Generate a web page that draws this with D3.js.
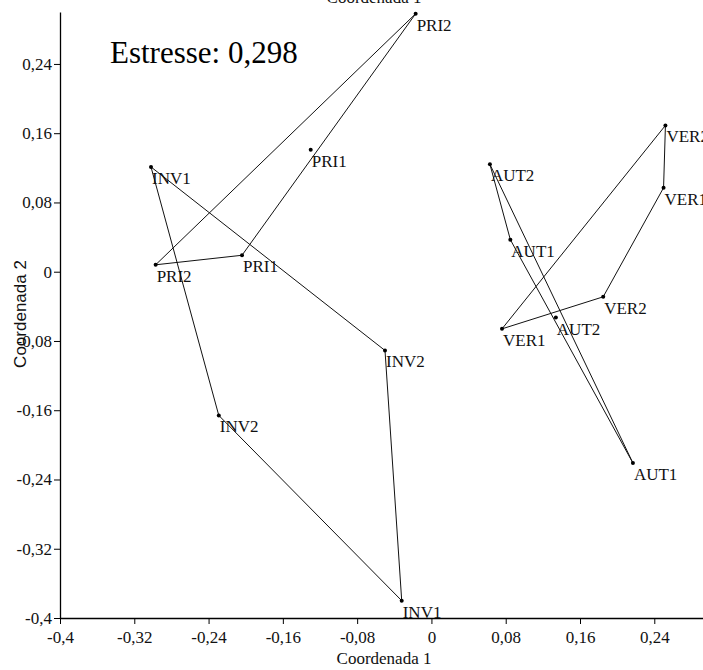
<!DOCTYPE html>
<html>
<head>
<meta charset="utf-8">
<script src="https://cdn.jsdelivr.net/npm/d3@7"></script>
<style>
  html, body { margin: 0; padding: 0; background: #fff; }
  svg { display: block; }
</style>
</head>
<body>
<div id="chart"></div>
<script>
// ---- data ----
const pointLabels = ["PRI2","PRI1","PRI1","PRI2","INV1","INV2","INV2","INV1","AUT2","AUT1","AUT2","AUT1","VER2","VER1","VER2","VER1"];
const season      = ["PRI","PRI","PRI","PRI","INV","INV","INV","INV","AUT","AUT","AUT","AUT","VER","VER","VER","VER"];
const coord1 = [-0.017, -0.130, -0.204, -0.297, -0.302, -0.050, -0.229, -0.032, 0.063, 0.085, 0.134, 0.217, 0.252, 0.250, 0.185, 0.076];
const coord2 = [ 0.298,  0.141,  0.019,  0.008,  0.121, -0.091, -0.166, -0.380, 0.124, 0.037, -0.053, -0.221, 0.169, 0.097, -0.029, -0.066];
const seasons = ["PRI","INV","AUT","VER"];
const xTicks = [-0.4, -0.32, -0.24, -0.16, -0.08, 0, 0.08, 0.16, 0.24];
const yTicks = [-0.4, -0.32, -0.24, -0.16, -0.08, 0, 0.08, 0.16, 0.24];
const stressText = "Estresse: 0,298";
const xTitle = "Coordenada 1";
const yTitle = "Coordenada 2";

// ---- layout ----
const W = 703, H = 670;
const svg = d3.select("#chart").append("svg").attr("width", W).attr("height", H);
const serif = "'Liberation Serif', 'Times New Roman', serif";
const sans = "'Liberation Sans', Arial, sans-serif";

const x = d3.scaleLinear().domain([-0.4, 0.3]).range([60, 710]);
const y = d3.scaleLinear().domain([-0.4, 0.3]).range([618, 12]);
const fmt = v => (v === 0 ? "0" : String(+v.toFixed(2)).replace(".", ","));

// axes
const xAxis = svg.append("g").attr("transform", `translate(0,${y(-0.4)})`)
  .call(d3.axisBottom(x).tickValues(xTicks).tickFormat(fmt).tickSize(6).tickSizeOuter(0));
const yAxis = svg.append("g").attr("transform", `translate(${x(-0.4)},0)`)
  .call(d3.axisLeft(y).tickValues(yTicks).tickFormat(fmt).tickSize(6).tickSizeOuter(0));
[xAxis, yAxis].forEach(g => {
  g.select(".domain").attr("stroke", "#000").attr("stroke-width", 1.3);
  g.selectAll(".tick line").attr("stroke", "#000");
  g.selectAll("text").attr("font-family", serif).attr("font-size", 17).attr("fill", "#111");
});
xAxis.selectAll("text").attr("dy", null).attr("y", 25);
yAxis.selectAll("text").attr("x", -8);

// titles
svg.append("text").attr("x", 384).attr("y", 664).attr("text-anchor", "middle")
  .attr("font-family", serif).attr("font-size", 17).attr("fill", "#111").text(xTitle);
svg.append("text").attr("x", 374).attr("y", 3).attr("text-anchor", "middle")
  .attr("font-family", serif).attr("font-size", 17).attr("fill", "#111").text(xTitle);
svg.append("text").attr("transform", "translate(26,314) rotate(-90)").attr("text-anchor", "middle")
  .attr("font-family", sans).attr("font-size", 17).attr("fill", "#111").text(yTitle);

// stress annotation
svg.append("text").attr("x", 110).attr("y", 63)
  .attr("font-family", serif).attr("font-size", 31).attr("fill", "#000").text(stressText);

// points
const pts = pointLabels.map((l, i) => ({ label: l, season: season[i], px: x(coord1[i]), py: y(coord2[i]) }));

// convex hulls per season
seasons.forEach(s => {
  const hull = d3.polygonHull(pts.filter(p => p.season === s).map(p => [p.px, p.py]));
  svg.append("path").attr("d", "M" + hull.join("L") + "Z")
    .attr("fill", "none").attr("stroke", "#111").attr("stroke-width", 1);
});

svg.append("g").selectAll("circle").data(pts).join("circle")
  .attr("cx", d => d.px).attr("cy", d => d.py).attr("r", 2).attr("fill", "#000");

svg.append("g").selectAll("text").data(pts).join("text")
  .attr("x", d => d.px + 1).attr("y", d => d.py + 17)
  .attr("font-family", serif).attr("font-size", 17).attr("fill", "#111")
  .text(d => d.label);
</script>
</body>
</html>
